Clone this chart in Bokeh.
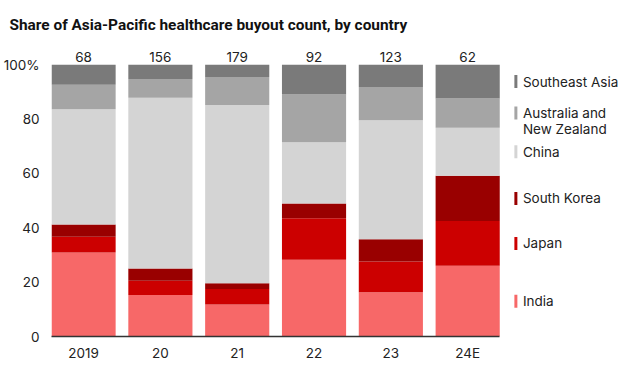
import numpy as np
from bokeh.plotting import figure
from bokeh.models import ColumnDataSource, Range1d, FixedTicker
from bokeh.embed import file_html
from bokeh.resources import INLINE

# ---- data ----
years = ["2019", "20", "21", "22", "23", "24E"]
counts = [68, 156, 179, 92, 123, 62]
india = [30.9, 15.3, 11.8, 28.2, 16.3, 26.0]
japan = [5.8, 5.2, 5.7, 15.3, 11.3, 16.5]
south_korea = [4.5, 4.5, 2.1, 5.4, 8.2, 16.6]
china = [42.4, 62.8, 65.6, 22.6, 43.8, 17.7]
anz = [9.0, 6.9, 10.3, 17.5, 12.2, 10.8]
sea = [7.4, 5.3, 4.5, 11.0, 8.2, 12.4]

series_keys = ["india", "japan", "south_korea", "china", "anz", "sea"]
series_names = ["India", "Japan", "South Korea", "China", "Australia and\nNew Zealand", "Southeast Asia"]
colors = ["#f76868", "#cc0000", "#990000", "#d4d4d4", "#a5a5a5", "#7a7a7a"]
y_ticks = [0, 20, 40, 60, 80, 100]

FONT = "Inter"
TXT = "#222222"

# ---- layout constants ----
BAR_W = 0.835
PX_PER_CAT = 77.9
FRAME_LEFT, FRAME_RIGHT = 43, 620
FRAME_TOP, FRAME_BOTTOM = 40, 336
PX_PER_PCT = 2.718
W, H = 624, 365

x = list(range(len(years)))
src = ColumnDataSource(dict(x=x, india=india, japan=japan, south_korea=south_korea,
                            china=china, anz=anz, sea=sea, counts=[str(c) for c in counts],
                            top=[100] * len(years)))

x_start = -BAR_W / 2
x_end = x_start + (FRAME_RIGHT - FRAME_LEFT) / PX_PER_CAT
y_end = (FRAME_BOTTOM - FRAME_TOP) / PX_PER_PCT

p = figure(width=W, height=H, output_backend="svg", toolbar_location=None,
           x_range=Range1d(x_start, x_end), y_range=Range1d(0, y_end),
           min_border_left=FRAME_LEFT, min_border_right=W - FRAME_RIGHT,
           min_border_top=FRAME_TOP, min_border_bottom=H - FRAME_BOTTOM,
           title="Share of Asia-Pacific healthcare buyout count, by country")
p.outline_line_color = None
p.grid.visible = False

p.title.text_font = "Roboto"
p.title.text_font_style = "bold"
p.title.text_font_size = "15.4px"
p.title.text_color = "#111111"
p.title.align = "left"
p.title.offset = -42
p.title.standoff = 14

p.vbar_stack(series_keys, x="x", width=BAR_W, color=colors, line_color=None, source=src)

# count labels above bars
p.text(x="x", y="top", text="counts", source=src, y_offset=-8,
       text_align="center", text_baseline="alphabetic",
       text_font={"value": FONT}, text_font_size="13.5px", text_color=TXT)

# legend labels at the middle of each segment of the last bar
last = np.array([india[-1], japan[-1], south_korea[-1], china[-1], anz[-1], sea[-1]])
tops = np.cumsum(last)
mids = tops - last / 2
leg_x = x[-1] + BAR_W / 2 + 0.21
yoff = [8 if "\n" in n else 0 for n in series_names]
leg = ColumnDataSource(dict(x=[leg_x] * 6, y=list(mids), name=series_names, color=colors,
                            yoff=yoff, ymark=list(mids)))
p.rect(x="x", y="ymark", width=3, height=13, width_units="screen", height_units="screen",
       color="color", line_color=None, source=leg)
p.text(x="x", y="y", text="name", source=leg, x_offset=7, y_offset="yoff",
       text_align="left", text_baseline="middle", text_font={"value": FONT},
       text_font_size="13.5px", text_color=TXT, text_line_height=1.0)

# axes
xa = p.xaxis[0]
xa.ticker = FixedTicker(ticks=x)
xa.bounds = (x_start, x[-1] + BAR_W / 2)
xa.major_label_overrides = {i: y for i, y in enumerate(years)}
xa.axis_line_color = "#333333"
xa.axis_line_width = 1.5
xa.major_tick_line_color = None
xa.minor_tick_line_color = None
xa.major_label_standoff = 2
xa.major_label_text_font = FONT
xa.major_label_text_font_size = "13.5px"
xa.major_label_text_color = TXT

ya = p.yaxis[0]
ya.ticker = FixedTicker(ticks=y_ticks)
ya.major_label_overrides = {100: "100%"}
ya.axis_line_color = None
ya.major_tick_line_color = None
ya.minor_tick_line_color = None
ya.major_label_standoff = 6
ya.major_label_text_font = FONT
ya.major_label_text_font_size = "13.5px"
ya.major_label_text_color = TXT

open("out.html", "w").write(file_html(p, INLINE))
